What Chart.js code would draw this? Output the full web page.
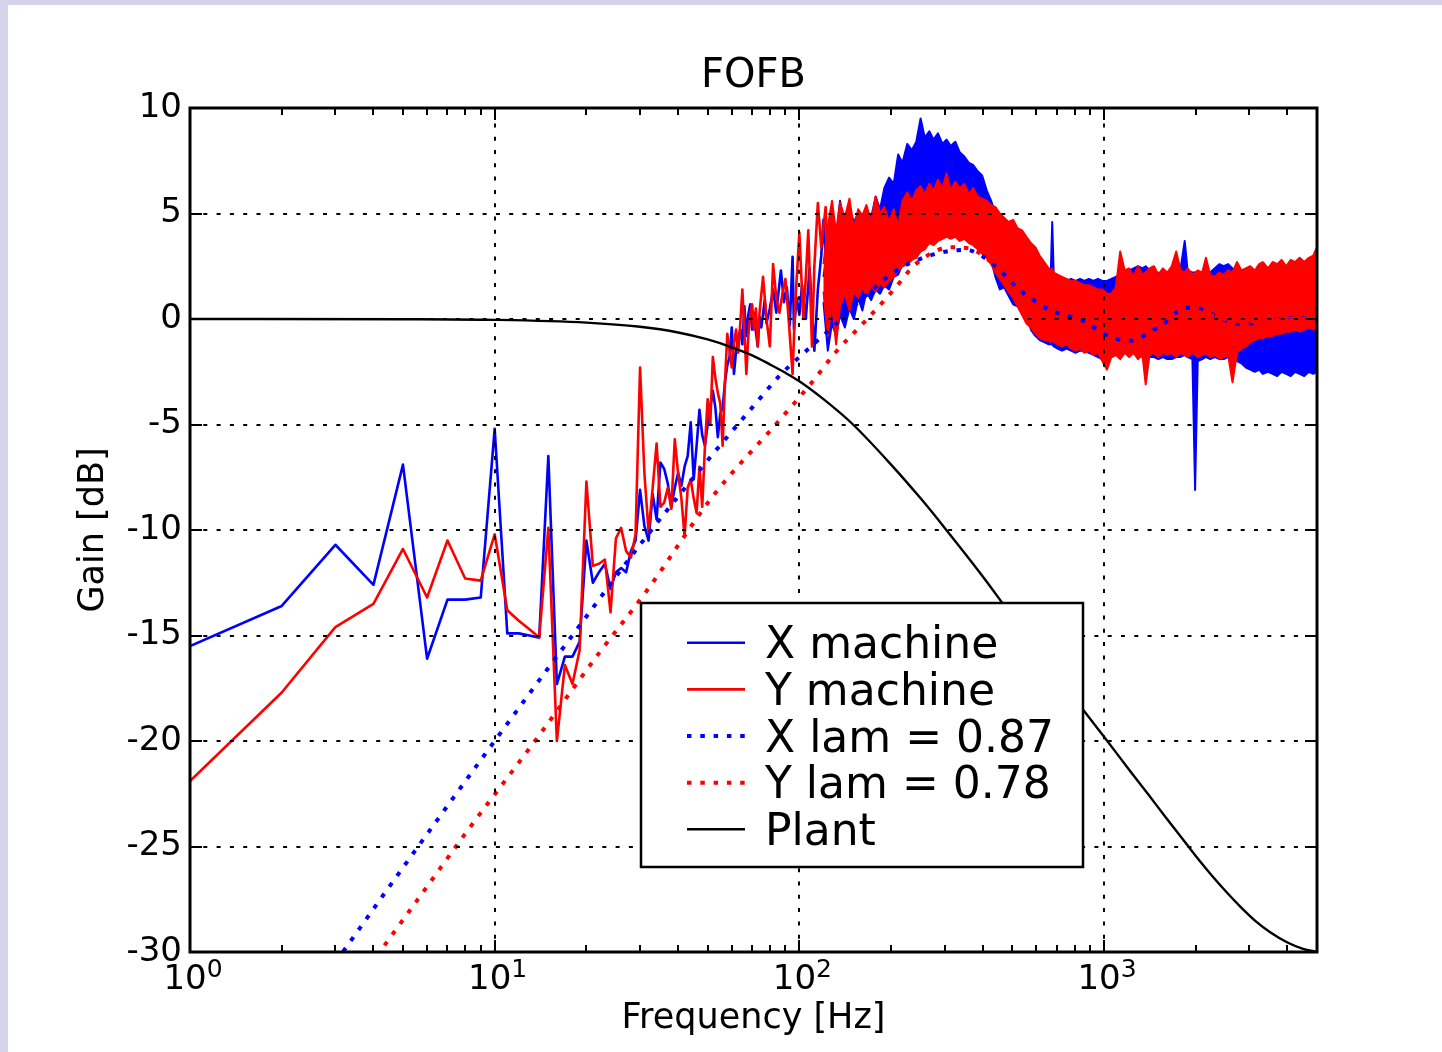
<!DOCTYPE html>
<html>
  <head>
    <title>FOFB</title>
    <style>
      body { margin: 0; background: #d4d4ea; }
      #sheet { position: absolute; left: 8px; top: 5px; width: 1434px; height: 1047px; background: #fff; }
    </style>
  </head>

  <body>
    <div id="sheet"><canvas id="fofbChart" width="1434" height="1047"></canvas></div>

    <script src="https://cdn.jsdelivr.net/npm/chart.js"></script>
    <script>
      // measured spectra, low-frequency part (one point per read bin)
      const xLowFreq = [1, 2, 3, 4, 5, 6, 7, 8, 9, 10, 11, 12, 13, 14, 15, 16, 17, 18, 19, 20,
        21, 22, 23, 24, 25, 26, 27, 28, 29, 30, 31, 32, 33, 34, 35, 36, 37, 38, 39, 40,
        41, 42, 43, 44, 45, 46, 47, 48, 49, 50, 52, 53, 54, 55, 56, 57, 58, 59, 60,
        61, 62, 63, 64, 65, 66, 67, 68, 69, 70, 71, 72, 73, 74, 75,
        77, 78, 80, 82, 84, 87, 89, 91, 93, 95, 96, 98, 100, 102, 105, 108, 110, 112, 115, 118, 120, 123];
      const xLowGain = [-15.5, -13.6, -10.7, -12.6, -6.9, -16.1, -13.3, -13.3, -13.2, -5.2,
        -14.9, -14.9, -15.0, -15.1, -6.5, -17.3, -16.0, -16.0, -15.3, -10.5,
        -12.5, -12.0, -11.6, -12.8, -12.0, -11.8, -12.0, -11.0, -10.5, -8.1,
        -9.8, -10.5, -8.3, -9.5, -6.8, -7.1, -7.8, -8.9, -8.0, -7.3,
        -7.9, -7.0, -6.5, -4.9, -7.6, -6.0, -4.3, -5.5, -6.0, -5.0,
        -3.4, -4.2, -5.6, -4.5, -4.2, -3.0, -2.2, -1.8, -0.4,
        -2.6, -1.5, -1.0, -0.5, -1.2, 0.6, -0.8, 0.2, 0.7, -0.5, 0.3, -0.6, -1.3, 0.1, -0.4,
        0.9, -0.2, 0.5, 1.4, 0.3, 2.3, 0.8, 1.5, -0.3, 2.95, -0.5, 1.0, 0.2, 1.6, 0.0, 2.4, 0.5, -1.5, 1.4, 3.0, 4.7, 2.0];

      const yLowFreq = [1, 2, 3, 4, 5, 6, 7, 8, 9, 10, 11, 12, 13, 14, 15, 16, 17, 18, 19, 20,
        21, 22, 23, 24, 25, 26, 27, 28, 29, 30, 31, 32, 33, 34, 35, 36, 37, 38, 39, 40,
        41, 42, 43, 44, 45, 46, 47, 48, 49, 50,
        51, 52, 53, 54, 55, 56, 57, 58, 59, 60, 61, 62, 63, 64, 65, 66, 67, 68, 69, 70, 71, 72, 73, 74,
        76, 78, 80, 82, 84, 86, 88, 90, 92, 95, 97, 100, 103, 105, 107, 110, 112, 115, 118, 122, 125];
      const yLowGain = [-21.9, -17.7, -14.6, -13.5, -10.9, -13.2, -10.5, -12.3, -12.4, -10.2,
        -13.8, -14.3, -14.7, -15.1, -9.9, -20.0, -16.4, -17.3, -15.7, -7.7,
        -11.7, -11.6, -11.4, -13.9, -10.4, -9.9, -11.0, -11.3, -10.2, -2.3,
        -7.3, -10.1, -8.0, -5.9, -8.9, -8.7, -8.0, -9.0, -5.7, -7.3,
        -8.5, -10.3, -8.0, -7.6, -8.5, -9.2, -7.0, -8.9, -6.0, -3.8,
        -5.0, -1.8, -2.8, -3.5, -4.0, -6.0, -3.0, -0.7, -1.5, -2.3, -1.2, -0.5, -1.6, -0.2, 1.4, -0.5, -2.6, -0.8, 0.2, 0.7, -0.5, 0.5, -1.3, 0.3,
        2.0, 0.0, -1.3, 2.6, 1.0, 0.3, 1.2, 1.9, 0.2, -2.6, 0.8, 4.1, 0.0, 2.0, 4.2, -1.3, 2.5, 5.5, 3.4, 5.3, 1.0];

      // dense part above ~120 Hz: upper and lower edge of each noisy band
      const bandFreq = [120, 124, 128, 132, 136, 141, 146, 151, 156, 161,
        166, 172, 178, 184, 190, 197, 204, 211, 218, 226,
        234, 242, 250, 258, 267, 276, 285, 295, 304, 314,
        325, 336, 348, 360, 372, 385, 398, 412, 426, 440,
        455, 470, 486, 503, 520, 538, 556, 575, 595, 615,
        636, 658, 668, 676, 684, 704, 728, 753, 779, 806,
        834, 862, 892, 923, 955, 988, 1022, 1057, 1093, 1130,
        1169, 1209, 1250, 1293, 1337, 1370, 1410, 1458, 1508, 1560,
        1613, 1668, 1725, 1784, 1840, 1880, 1950, 1990, 2030, 2100,
        2160, 2230, 2310, 2390, 2470, 2555, 2640, 2730, 2825, 2920,
        3020, 3125, 3230, 3320, 3455, 3575, 3700, 3825, 3960, 4100,
        4240, 4385, 4540, 4700, 4860, 5000];
      const xBandHi = [2.0, 3.5, 5.0, 3.9, 5.6, 4.4, 5.2, 4.6, 5.0, 4.5,
        5.2, 4.8, 5.8, 5.2, 6.2, 6.7, 6.4, 7.8, 7.4, 8.3,
        8.0, 8.4, 9.5, 8.6, 8.9, 8.5, 8.8, 8.3, 8.5, 8.2,
        8.4, 7.9, 7.7, 7.4, 7.3, 7.0, 6.8, 6.1, 5.6, 5.0,
        4.8, 4.4, 4.2, 3.8, 3.6, 3.4, 3.2, 3.0, 2.8, 2.6,
        2.3, 2.0, 2.0, 4.6, 2.0, 1.9, 1.9, 1.8, 1.9, 1.8,
        1.9, 1.8, 1.9, 1.8, 1.9, 1.8, 1.8, 1.9, 2.0, 2.1,
        2.2, 2.3, 2.4, 2.5, 2.4, 2.5, 2.3, 2.1, 2.2, 2.0,
        2.2, 2.1, 2.2, 2.4, 3.7, 2.3, 2.2, 2.2, 2.1, 2.2,
        2.1, 2.2, 2.4, 2.6, 2.5, 2.6, 2.4, 2.3, 1.5, 1.3,
        1.2, 1.2, 1.1, 1.0, 1.0, 1.1, 1.0, 1.0, 1.0, 1.1,
        1.0, 1.0, 1.0, 1.0, 1.0, 1.0];
      const xBandLo = [0.8, -1.5, -0.2, -0.8, 0.2, -0.4, 0.5, 0.0, 1.0, 0.4,
        1.3, 0.9, 1.4, 1.2, 1.6, 1.4, 2.0, 2.1, 2.6, 2.7,
        3.0, 3.1, 3.3, 3.5, 3.7, 3.7, 3.9, 4.0, 4.0, 4.0,
        4.0, 3.9, 3.9, 3.8, 3.7, 3.5, 3.3, 3.1, 2.8, 2.0,
        1.4, 1.5, 1.1, 0.7, 0.6, 0.5, 0.4, -0.5, -0.8, -1.0,
        -1.1, -1.2, -1.2, -1.2, -1.3, -1.4, -1.5, -1.4, -1.5, -1.6,
        -1.5, -1.5, -1.6, -1.7, -1.8, -1.9, -1.9, -1.8, -1.7, -1.6,
        -1.6, -1.7, -1.6, -1.7, -1.8, -1.8, -1.8, -1.8, -1.9, -1.8,
        -1.9, -1.9, -1.8, -1.8, -1.7, -1.8, -1.9, -8.1, -2.0, -1.9,
        -1.8, -1.9, -1.8, -1.9, -1.9, -1.8, -1.9, -2.0, -2.1, -2.3,
        -2.4, -2.5, -2.4, -2.6, -2.5, -2.6, -2.7, -2.5, -2.6, -2.7,
        -2.5, -2.6, -2.7, -2.5, -2.6, -2.5];
      const yBandHi = [2.6, 4.4, 5.6, 4.1, 5.5, 4.8, 5.7, 4.3, 5.2, 4.9,
        5.4, 4.6, 5.8, 5.0, 5.3, 4.6, 5.2, 4.4, 5.6, 6.0,
        5.6, 6.1, 6.3, 5.9, 6.4, 6.1, 6.6, 6.2, 6.9, 6.1,
        6.5, 6.2, 6.4, 5.9, 6.2, 5.8, 5.7, 5.6, 5.4, 5.3,
        5.0, 4.8, 4.6, 4.7, 4.3, 4.2, 3.9, 3.6, 3.4, 3.0,
        2.7, 2.4, 2.3, 2.4, 2.2, 2.1, 2.0, 1.9, 1.8, 1.8,
        1.7, 1.6, 1.6, 1.5, 1.4, 1.4, 1.2, 1.2, 1.5, 3.2,
        2.3, 2.4, 2.0, 2.5, 2.1, 2.2, 2.4, 2.5, 2.1, 2.4,
        2.2, 2.5, 3.2, 2.3, 2.2, 2.4, 2.1, 2.2, 2.3, 2.2,
        2.9, 2.1, 2.0, 2.2, 2.1, 2.3, 2.2, 2.7, 2.3, 2.4,
        2.5, 2.3, 2.6, 2.7, 2.4, 2.7, 2.6, 2.8, 2.5, 2.8,
        2.7, 2.9, 2.7, 2.9, 3.0, 3.4];
      const yBandLo = [1.3, -0.8, 0.8, -1.2, 0.6, 1.2, 0.4, 1.3, 1.0, 1.5,
        1.1, 1.6, 1.3, 1.7, 1.5, 1.8, 2.0, 2.3, 2.5, 2.6,
        2.8, 2.9, 3.2, 3.3, 3.6, 3.5, 3.7, 3.8, 3.9, 3.8,
        3.9, 3.7, 3.8, 3.6, 3.5, 3.3, 3.1, 2.9, 2.6, 2.2,
        1.9, 1.6, 1.3, 1.0, 0.6, 0.2, -0.2, -0.4, -0.7, -0.9,
        -1.0, -1.0, -1.1, -1.0, -1.1, -1.2, -1.3, -1.2, -1.4, -1.5,
        -1.4, -1.6, -1.5, -1.7, -1.6, -2.0, -2.4, -1.8, -1.7, -1.9,
        -1.6, -1.8, -1.6, -1.9, -1.7, -3.1, -1.7, -1.6, -1.8, -1.6,
        -1.7, -1.6, -1.8, -1.6, -1.7, -1.8, -1.6, -1.7, -1.8, -1.7,
        -1.6, -1.8, -1.7, -1.9, -1.8, -1.7, -3.0, -1.6, -1.4, -1.3,
        -1.1, -1.0, -0.9, -0.9, -0.8, -0.8, -0.7, -0.7, -0.6, -0.6,
        -0.5, -0.6, -0.5, -0.4, -0.5, -0.3];

      // model curves
      const xLamFreq = [3, 5, 10, 20, 31.5, 52, 70, 86, 100, 129,
        162, 208, 255, 304, 354, 401, 455, 517, 586, 664,
        773, 867, 935, 1020, 1110, 1220, 1320, 1450, 1560, 1660,
        1800, 1975, 2150, 2350, 2560, 2800, 3070, 3480, 3950, 4450, 5000];
      const xLamGain = [-30.5, -26.0, -20.0, -14.1, -10.3, -6.4, -4.2, -2.7, -1.8, -0.36,
        1.0, 2.3, 2.9, 3.2, 3.27, 2.95, 2.3, 1.5, 0.9, 0.43,
        0.11, -0.13, -0.44, -0.76, -0.96, -1.03, -0.87, -0.52, -0.28, 0.11,
        0.46, 0.55, 0.39, 0.11, -0.13, -0.24, -0.2, -0.05, 0.03, 0.03, 0.0];
      const yLamFreq = [4.1, 6, 8, 13.4, 22.1, 31.5, 52, 86, 110, 132,
        162, 184, 208, 236, 270, 310, 360, 410, 460, 520,
        600, 700, 800, 950, 1100, 1250, 1450, 1700, 2000, 2300,
        2700, 3200, 4000, 5000];
      const yLamGain = [-30.2, -26.9, -24.4, -20.1, -15.8, -12.9, -8.4, -4.8, -3.0, -1.55,
        -0.2, 0.66, 1.53, 2.48, 3.1, 3.4, 3.35, 2.9, 2.2, 1.4,
        0.6, 0.0, -0.3, -0.6, -0.8, -0.7, -0.3, 0.2, 0.35, 0.15,
        -0.1, -0.1, 0.0, 0.0];
      const plantFreq = [1, 5, 10, 20, 30, 40, 50, 60, 70, 80,
        90, 100, 120, 150, 200, 250, 300, 400, 500, 600,
        700, 800, 900, 1000, 1200, 1400, 1600, 1800, 2000, 2250,
        2500, 2800, 3150, 3500, 4000, 4500, 5000];
      const plantGain = [0, -0.01, -0.04, -0.17, -0.37, -0.64, -0.97, -1.34, -1.72, -2.15,
        -2.55, -2.95, -3.8, -5.0, -6.9, -8.5, -9.9, -12.2, -14.1, -15.6,
        -16.9, -18.0, -18.95, -19.8, -21.3, -22.55, -23.65, -24.6, -25.45, -26.35,
        -27.1, -27.85, -28.55, -29.05, -29.55, -29.85, -30.0];

      const xTickValues = [1, 10, 100, 1000];
      const xTickExponents = ["0", "1", "2", "3"];
      const xGridValues = [10, 100, 1000];
      const yGridValues = [5, 0, -5, -10, -15, -20, -25];
      const legendLabels = ["X machine", "Y machine", "X lam = 0.87", "Y lam = 0.78", "Plant"];
      const legendDatasets = [0, 3, 6, 7, 8];

      const BLUE = "#0000ff";
      const RED = "#ff0000";
      const FONT = "'DejaVu Sans', sans-serif";

      function pts(freqs, gains) {
        return freqs.map((f, i) => ({ x: f, y: gains[i] }));
      }

      function seg(ctx, x1, y1, x2, y2) {
        ctx.beginPath();
        ctx.moveTo(x1, y1);
        ctx.lineTo(x2, y2);
        ctx.stroke();
      }

      // grid on top of the data, legend box, inward ticks, frame, x tick labels
      const axesDecor = {
        id: "axesDecor",
        afterDatasetsDraw(chart) {
          const { ctx, chartArea: a, scales: { x, y } } = chart;
          ctx.save();

          ctx.strokeStyle = "#000";
          ctx.lineWidth = 2;
          ctx.setLineDash([4, 9.3]);
          xGridValues.forEach((v) => {
            const px = Math.round(x.getPixelForValue(v));
            seg(ctx, px, a.bottom, px, a.top);
          });
          yGridValues.forEach((v) => {
            const py = Math.round(y.getPixelForValue(v));
            seg(ctx, a.left, py, a.right, py);
          });
          ctx.setLineDash([]);

          // legend
          const lx = a.left + 451, ly = a.top + 495, lw = 442, lh = 264;
          ctx.fillStyle = "#fff";
          ctx.fillRect(lx, ly, lw, lh);
          ctx.lineWidth = 2.5;
          ctx.strokeStyle = "#000";
          ctx.strokeRect(lx, ly, lw, lh);
          ctx.font = "44px " + FONT;
          ctx.textAlign = "left";
          ctx.textBaseline = "alphabetic";
          legendLabels.forEach((label, i) => {
            const ds = chart.data.datasets[legendDatasets[i]];
            const ry = ly + 39.7 + 46.65 * i;
            ctx.strokeStyle = ds.borderColor;
            ctx.lineWidth = ds.borderWidth;
            ctx.setLineDash(ds.borderDash || []);
            seg(ctx, lx + 46, ry, lx + 104, ry);
            ctx.setLineDash([]);
            ctx.fillStyle = "#000";
            ctx.fillText(label, lx + 124, ry + 15.5);
          });

          // inward ticks
          ctx.strokeStyle = "#000";
          ctx.lineWidth = 2;
          for (let v = -30; v <= 10; v += 5) {
            const py = Math.round(y.getPixelForValue(v));
            seg(ctx, a.left, py, a.left + 12, py);
            seg(ctx, a.right, py, a.right - 12, py);
          }
          for (let dec = 1; dec <= 1000; dec *= 10) {
            for (let m = 1; m <= 9; m++) {
              const f = dec * m;
              if (f > 5000) break;
              const px = Math.round(x.getPixelForValue(f));
              const len = m === 1 ? 12 : 7;
              seg(ctx, px, a.bottom, px, a.bottom - len);
              seg(ctx, px, a.top, px, a.top + len);
            }
          }

          // frame
          ctx.lineWidth = 3;
          ctx.strokeRect(a.left, a.top, a.right - a.left, a.bottom - a.top);

          // x tick labels 10^n
          ctx.fillStyle = "#000";
          xTickValues.forEach((v, i) => {
            const px = x.getPixelForValue(v);
            ctx.font = "34px " + FONT;
            const bw = ctx.measureText("10").width;
            ctx.font = "25px " + FONT;
            const ew = ctx.measureText(xTickExponents[i]).width;
            const left = px - (bw + ew) / 2 + 3;
            ctx.font = "34px " + FONT;
            ctx.fillText("10", left, a.bottom + 37);
            ctx.font = "25px " + FONT;
            ctx.fillText(xTickExponents[i], left + bw, a.bottom + 25);
          });

          ctx.restore();
        },
      };

      Chart.defaults.font.family = FONT;
      Chart.defaults.color = "#000";

      const lowLine = { borderWidth: 2.6, tension: 0, clip: 0 };
      const bandLine = { borderWidth: 2, tension: 0, clip: 0 };

      new Chart(document.getElementById("fofbChart"), {
        type: "line",
        data: {
          datasets: [
            { label: "X machine", data: pts(xLowFreq, xLowGain), borderColor: BLUE, ...lowLine, order: 9 },
            { label: "X band hi", data: pts(bandFreq, xBandHi), borderColor: BLUE, backgroundColor: BLUE, fill: "+1", ...bandLine, order: 8 },
            { label: "X band lo", data: pts(bandFreq, xBandLo), borderColor: BLUE, ...bandLine, order: 8 },
            { label: "Y machine", data: pts(yLowFreq, yLowGain), borderColor: RED, ...lowLine, order: 6 },
            { label: "Y band hi", data: pts(bandFreq, yBandHi), borderColor: RED, backgroundColor: RED, fill: "+1", ...bandLine, order: 5 },
            { label: "Y band lo", data: pts(bandFreq, yBandLo), borderColor: RED, ...bandLine, order: 5 },
            { label: "X lam = 0.87", data: pts(xLamFreq, xLamGain), borderColor: BLUE, borderWidth: 4, borderDash: [4.5, 8.8], cubicInterpolationMode: "monotone", clip: 0, order: 3 },
            { label: "Y lam = 0.78", data: pts(yLamFreq, yLamGain), borderColor: RED, borderWidth: 4, borderDash: [4.5, 8.8], cubicInterpolationMode: "monotone", clip: 0, order: 2 },
            { label: "Plant", data: pts(plantFreq, plantGain), borderColor: "#000", borderWidth: 2.4, cubicInterpolationMode: "monotone", clip: 0, order: 1 },
          ],
        },
        options: {
          responsive: false,
          animation: false,
          layout: { padding: { left: 0, top: 0, right: 125, bottom: 0 } },
          elements: {
            point: { radius: 0, hoverRadius: 0 },
            line: { borderJoinStyle: "round", borderCapStyle: "butt", fill: false },
          },
          plugins: {
            legend: { display: false },
            tooltip: { enabled: false },
            title: {
              display: true,
              fullSize: false,
              text: "FOFB",
              color: "#000",
              font: { size: 40, weight: "normal" },
              padding: { top: 48, bottom: 7 },
            },
          },
          scales: {
            x: {
              type: "logarithmic",
              min: 1,
              max: 5000,
              grid: { display: false, drawTicks: false },
              border: { display: false },
              ticks: { display: false },
              title: {
                display: true,
                text: "Frequency [Hz]",
                font: { size: 35 },
                padding: { top: 0, bottom: 12 },
              },
              afterFit: (s) => { s.height = 100; },
            },
            y: {
              min: -30,
              max: 10,
              grid: { display: false, drawTicks: false },
              border: { display: false },
              ticks: { stepSize: 5, padding: 8, font: { size: 34 }, color: "#000" },
              title: {
                display: true,
                text: "Gain [dB]",
                font: { size: 35 },
                padding: { top: 65, bottom: 0 },
              },
              afterFit: (s) => { s.width = 182; },
            },
          },
        },
        plugins: [axesDecor],
      });
    </script>
  </body>
</html>
